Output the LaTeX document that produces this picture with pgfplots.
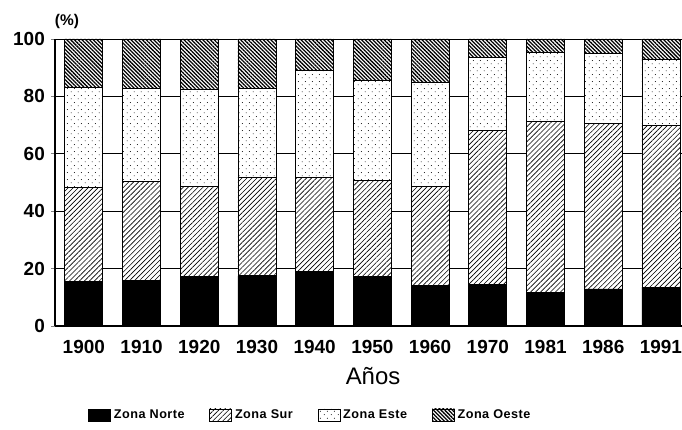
\documentclass[border=0pt]{standalone}
\usepackage{pgfplots}
\usepackage{pgfplotstable}
\pgfplotsset{compat=1.18}
\usepackage{fontspec}
\setmainfont{Liberation Sans}
\usetikzlibrary{patterns,patterns.meta}
\pgfdeclarepattern{
  name=sparsedots, type=uncolored,
  bottom left={\pgfpoint{0pt}{0pt}}, top right={\pgfpoint{5pt}{5pt}},
  tile size={\pgfpoint{5pt}{5pt}},
  code={\pgfpathcircle{\pgfpoint{1pt}{1pt}}{0.4pt}\pgfpathcircle{\pgfpoint{3.5pt}{3.6pt}}{0.4pt}\pgfusepath{fill}}}

\pgfplotstableread{
x norte sur este oeste
0  15.4 33.0 34.8 16.8
1  16.0 34.3 32.5 17.2
2  17.2 31.5 33.9 17.4
3  17.5 34.3 31.0 17.2
4  19.0 32.8 37.2 11.0
5  17.3 33.3 35.1 14.3
6  14.0 34.5 36.4 15.1
7  14.6 53.4 25.6 6.4
8  11.7 59.5 24.2 4.6
9  12.9 57.8 24.1 5.2
10 13.5 56.3 23.0 7.2
}\data

\begin{document}
\begin{tikzpicture}
\begin{axis}[
  at={(0,0)}, anchor=south west,
  scale only axis, width=158.7mm, height=71.75mm,
  ybar stacked, bar width=9.5mm,
  xmin=-0.5, xmax=10.5, ymin=0, ymax=100,
  xtick={0,...,10},
  xticklabels={1900,1910,1920,1930,1940,1950,1960,1970,1981,1986,1991},
  ytick={0,20,40,60,80,100},
  ymajorgrids, grid style={black, line width=0.6pt},
  axis x line*=bottom, axis y line*=left,
  axis line style={line width=0.8pt, -},
  x tick style={draw=none},
  y tick style={line width=0.6pt},
  tick align=outside, major tick length=1mm,
  /pgf/number format/assume math mode=true,
  ticklabel style={font=\bfseries\fontsize{13.5}{14}\selectfont},
  xticklabel style={yshift=-1.2mm},
  yticklabel style={xshift=-0.3mm},
  xlabel={Años},
  x label style={at={(axis description cs:0.501,-0.174)}, anchor=center, font=\fontsize{17}{18}\selectfont},
  clip=false,
  legend columns=4,
  legend style={draw=none, at={(0.403,-0.31)}, anchor=center,
    font=\bfseries\fontsize{9}{10}\selectfont\addfontfeature{LetterSpace=4},
    /tikz/every even column/.append style={column sep=5.5mm}},
  legend image code/.code={\draw[#1,draw=black,line width=0.5pt] (0mm,-1.5mm) rectangle (5.5mm,1.5mm);},
  every axis plot/.append style={draw=black, line width=0.6pt},
]
\addplot[fill=black] table[x=x,y=norte]{\data};
\addplot[preaction={fill=white}, pattern={Lines[angle=45,distance=2.5pt,line width=0.45pt]}] table[x=x,y=sur]{\data};
\addplot[preaction={fill=white}, pattern=sparsedots] table[x=x,y=este]{\data};
\addplot[preaction={fill=white}, pattern={Lines[angle=-45,distance=1.9pt,line width=0.9pt]}] table[x=x,y=oeste]{\data};
\legend{Zona Norte,Zona Sur,Zona Este,Zona Oeste}
\end{axis}
\node[font=\bfseries\fontsize{11}{12}\selectfont] at (3mm,76mm) {(\%)};
\pgfresetboundingbox
\path (-13.75mm,-26mm) rectangle (156.75mm,81.5mm);
\end{tikzpicture}
\end{document}
